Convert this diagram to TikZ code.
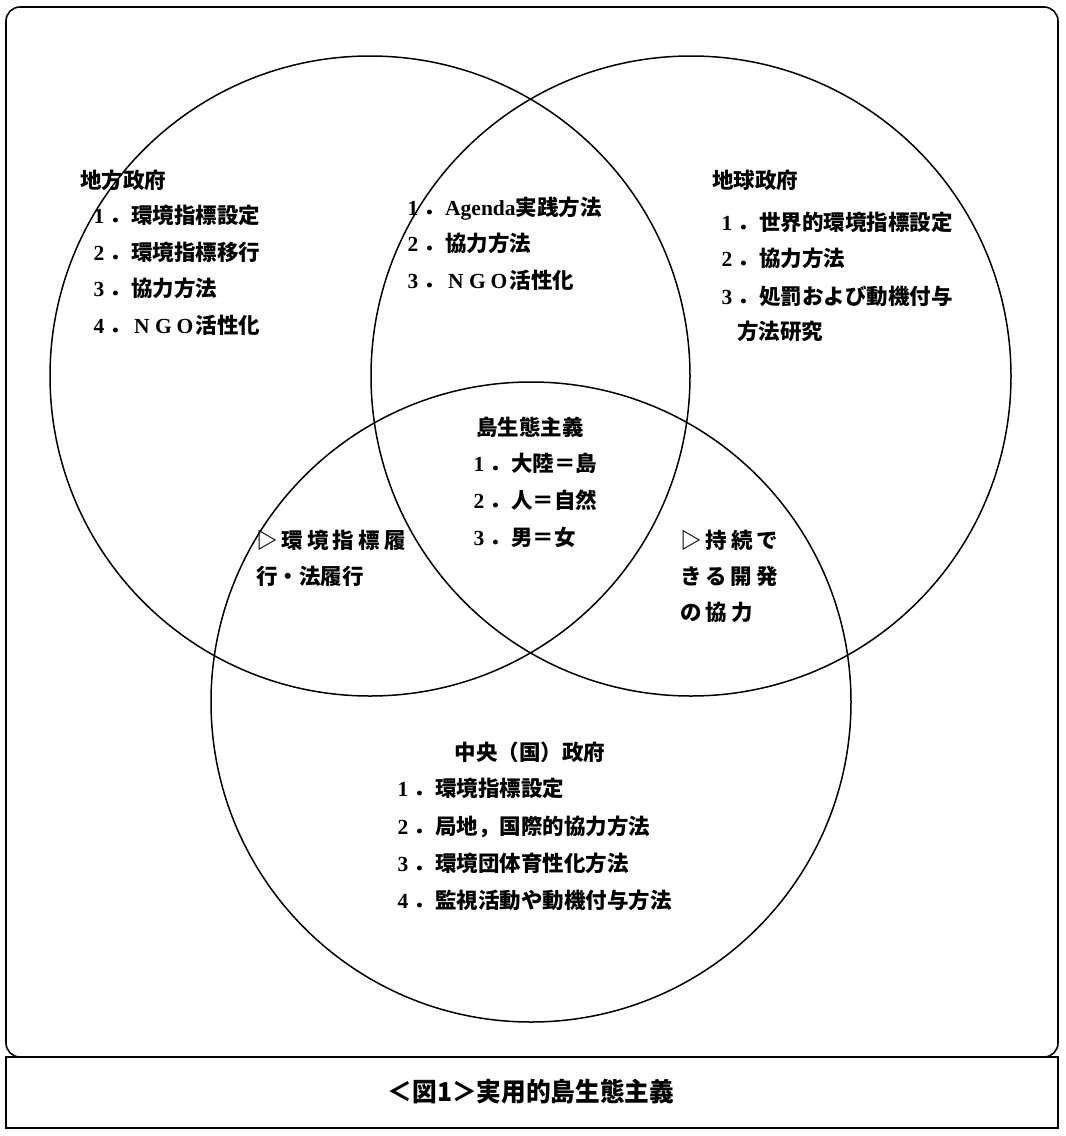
\documentclass[tikz,border=0pt]{standalone}
\usepackage{fontspec}
\setmainfont{Liberation Serif}
\newfontfamily\cjk{Noto Sans CJK JP}
\newfontfamily\cjksp{Noto Sans CJK JP}[LetterSpace=19]
\newcommand\fw[1]{\makebox[1em][c]{\rmfamily\bfseries #1}}
\newcommand\hw[1]{{\rmfamily\bfseries #1}}
\begin{document}
\begin{tikzpicture}[x=1pt,y=-1pt,
  circ/.style={draw, line width=1.5pt},
  frame/.style={draw, line width=1.6pt},
  lbl/.style={anchor=base west, inner sep=0pt, font=\cjk\bfseries\fontsize{21.5}{21.5}\selectfont},
  lblc/.style={lbl, anchor=base},
  lsp/.style={anchor=base west, inner sep=0pt, font=\cjksp\bfseries\fontsize{21.5}{21.5}\selectfont},
  captxt/.style={anchor=base, inner sep=0pt, font=\cjk\bfseries\fontsize{26}{26}\selectfont}]
\useasboundingbox (0,0) rectangle (1066,1136);
% frames
\draw[frame, rounded corners=14pt] (6,7) rectangle (1058,1057);
\draw[frame] (6,1057) rectangle (1058,1128);
% circles
\draw[circ] (370,376) circle [radius=320pt];
\draw[circ] (691,376) circle [radius=320pt];
\draw[circ] (531,702) circle [radius=320pt];
% left circle
\node[lbl] (l0) at (80,188) {地方政府};
\node[lbl] (l1) at (88,223) {\fw{1}．環境指標設定};
\node[lbl] (l2) at (88,260) {\fw{2}．環境指標移行};
\node[lbl] (l3) at (88,296) {\fw{3}．協力方法};
\node[lbl] (l4) at (88,333) {\fw{4}．\fw{N}\fw{G}\fw{O}活性化};
% top middle
\node[lbl] (m1) at (402,215) {\fw{1}．\hw{Agenda}実践方法};
\node[lbl] (m2) at (402,251) {\fw{2}．協力方法};
\node[lbl] (m3) at (402,288) {\fw{3}．\fw{N}\fw{G}\fw{O}活性化};
% right circle
\node[lbl] (r0) at (712,188) {地球政府};
\node[lbl] (r1) at (716,230) {\fw{1}．世界的環境指標設定};
\node[lbl] (r2) at (716,266) {\fw{2}．協力方法};
\node[lbl] (r3) at (716,304) {\fw{3}．処罰および動機付与};
\node[lbl] (r4) at (737,339) {方法研究};
% centre
\node[lblc] (c0) at (530,435) {島生態主義};
\node[lbl] (c1) at (468,471) {\fw{1}．大陸＝島};
\node[lbl] (c2) at (468,508) {\fw{2}．人＝自然};
\node[lbl] (c3) at (468,545) {\fw{3}．男＝女};
% left-bottom overlap
\node[lsp] (lb1) at (256,548) {▷環境指標履};
\node[lbl] (lb2) at (256,584) {行・法履行};
% right-bottom overlap
\node[lsp] (rb1) at (680,548) {▷持続で};
\node[lsp] (rb2) at (680,584) {きる開発};
\node[lsp] (rb3) at (680,620) {の協力};
% bottom circle
\node[lblc] (b0) at (530,760) {中央（国）政府};
\node[lbl] (b1) at (392,796) {\fw{1}．環境指標設定};
\node[lbl] (b2) at (392,834) {\fw{2}．局地，国際的協力方法};
\node[lbl] (b3) at (392,871) {\fw{3}．環境団体育性化方法};
\node[lbl] (b4) at (392,908) {\fw{4}．監視活動や動機付与方法};
% caption
\node[captxt] (capt) at (531,1101) {\scalebox{0.95}[1]{＜図1＞実用的島生態主義}};
\end{tikzpicture}
\end{document}
